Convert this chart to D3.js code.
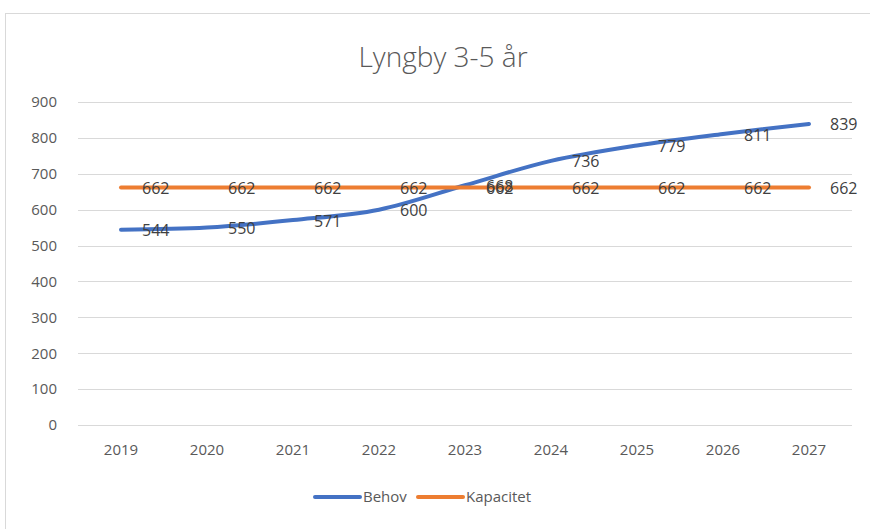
<!DOCTYPE html>
<html>
<head>
<meta charset="utf-8">
<script src="https://cdn.jsdelivr.net/npm/d3@7"></script>
<style>
  body { margin: 0; background: #fff; }
  text { font-family: "Open Sans", sans-serif; }
</style>
</head>
<body>
<div id="chart"></div>
<script>
// Data
var years = ["2019", "2020", "2021", "2022", "2023", "2024", "2025", "2026", "2027"];
var behov = [544, 550, 571, 600, 668, 736, 779, 811, 839];
var kapacitet = [662, 662, 662, 662, 662, 662, 662, 662, 662];
var yTicks = [0, 100, 200, 300, 400, 500, 600, 700, 800, 900];

var svgWidth = 870;
var svgHeight = 529;

var chartMargin = { top: 102, right: 18, bottom: 104, left: 78 };
var chartWidth = svgWidth - chartMargin.left - chartMargin.right;
var chartHeight = svgHeight - chartMargin.top - chartMargin.bottom;

var svg = d3.select("#chart")
  .append("svg")
  .attr("width", svgWidth)
  .attr("height", svgHeight);

// chart frame
svg.append("rect")
  .attr("x", 5.5).attr("y", 13.5)
  .attr("width", 870).attr("height", 530)
  .attr("fill", "#fff")
  .attr("stroke", "#d9d9d9");

svg.append("text")
  .attr("x", 443).attr("y", 67)
  .attr("text-anchor", "middle")
  .attr("font-size", "28px")
  .attr("font-weight", 300)
  .attr("fill", "#595959")
  .text("Lyngby 3-5 år");

var chartGroup = svg.append("g")
  .attr("transform", `translate(${chartMargin.left}, ${chartMargin.top})`);

var xScale = d3.scaleBand()
  .domain(years)
  .range([0, chartWidth]);

var yScale = d3.scaleLinear()
  .domain([0, 900])
  .range([chartHeight, 0]);

// gridlines
chartGroup.append("g")
  .selectAll("line")
  .data(yTicks)
  .enter()
  .append("line")
  .attr("x1", 0).attr("x2", chartWidth)
  .attr("y1", d => Math.round(yScale(d)) + 0.5)
  .attr("y2", d => Math.round(yScale(d)) + 0.5)
  .attr("stroke", "#d9d9d9")
  .attr("stroke-width", 1);

var leftAxis = d3.axisLeft(yScale).tickValues(yTicks).tickSize(0).tickPadding(21);
var yAxisG = chartGroup.append("g").call(leftAxis);
yAxisG.select(".domain").remove();
yAxisG.selectAll("text").attr("font-size", "15px").attr("fill", "#595959")
  .style("font-family", "'Open Sans', sans-serif");

var bottomAxis = d3.axisBottom(xScale).tickSize(0).tickPadding(19);
var xAxisG = chartGroup.append("g")
  .attr("transform", `translate(0, ${chartHeight})`)
  .call(bottomAxis);
xAxisG.select(".domain").remove();
xAxisG.selectAll("text").attr("font-size", "15px").attr("fill", "#595959")
  .style("font-family", "'Open Sans', sans-serif");

var cx = d => xScale(d) + xScale.bandwidth() / 2;

var line = d3.line()
  .x((d, i) => cx(years[i]))
  .y(d => yScale(d))
  .curve(d3.curveCatmullRom.alpha(0.5));

var series = [
  { name: "Behov", values: behov, color: "#4472C4" },
  { name: "Kapacitet", values: kapacitet, color: "#ED7D31" }
];

series.forEach(function(s) {
  chartGroup.append("path")
    .datum(s.values)
    .attr("fill", "none")
    .attr("stroke", s.color)
    .attr("stroke-width", 4)
    .attr("stroke-linecap", "round")
    .attr("d", line);
});

series.forEach(function(s) {
  chartGroup.selectAll(null)
    .data(s.values)
    .enter()
    .append("text")
    .attr("x", (d, i) => cx(years[i]) + 21)
    .attr("y", d => yScale(d) + 1)
    .attr("dy", "0.35em")
    .attr("font-size", "16px")
    .attr("fill", "#404040")
    .text(d => d);
});

// legend
var legend = svg.append("g").attr("transform", "translate(315, 497)");
series.forEach(function(s, i) {
  var g = legend.append("g").attr("transform", `translate(${i * 103}, 0)`);
  g.append("line").attr("x1", 0).attr("x2", 45).attr("y1", 0).attr("y2", 0)
    .attr("stroke", s.color).attr("stroke-width", 4).attr("stroke-linecap", "round");
  g.append("text").attr("x", 48).attr("y", 0).attr("dy", "0.35em")
    .attr("font-size", "15px").attr("fill", "#595959").text(s.name);
});
</script>
</body>
</html>
